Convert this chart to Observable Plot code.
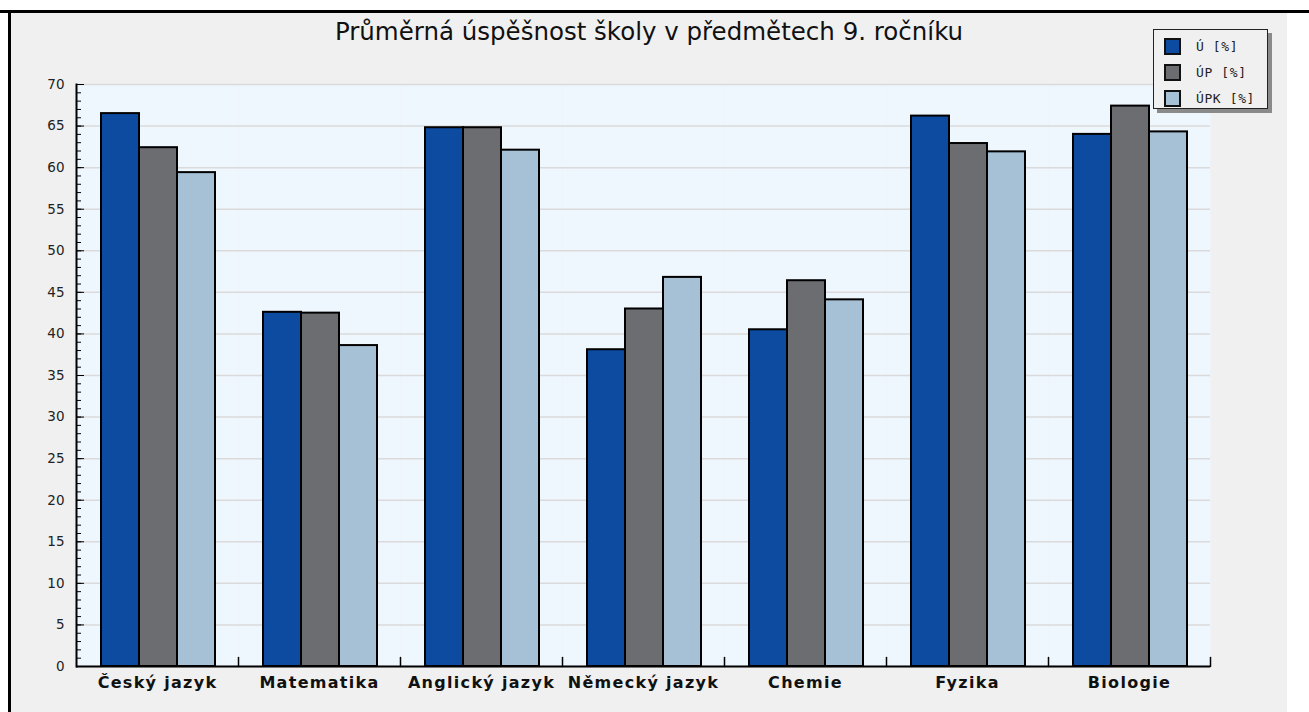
<!DOCTYPE html>
<html>
<head>
<meta charset="utf-8">
<script src="https://cdn.jsdelivr.net/npm/d3@7"></script>
<script src="https://cdn.jsdelivr.net/npm/@observablehq/plot@0.6"></script>
<style>
  html, body { margin: 0; padding: 0; background: #ffffff; }
  body { width: 1309px; height: 712px; position: relative; overflow: hidden; font-family: "DejaVu Sans", sans-serif; }
  #topline { position: absolute; left: 0; top: 10px; width: 1309px; height: 3px; background: #000; }
  #leftline { position: absolute; left: 8px; top: 10px; width: 3px; height: 702px; background: #000; }
  #panel { position: absolute; left: 11px; top: 13px; width: 1276px; height: 699px; background: #f0f0f0; }
  #title { position: absolute; left: 11px; width: 1276px; top: 17px; text-align: center; font-family: "DejaVu Sans", sans-serif; font-size: 24.5px; color: #111; white-space: nowrap; }
  #chart { position: absolute; left: 0; top: 0; }
  #chart g[aria-label="fx-axis tick label"] text { letter-spacing: 1.3px; }
  #legendbox { position: absolute; left: 1153px; top: 29px; width: 115px; height: 80px; border: 1px solid #222; background: #f0f0f0; box-shadow: 4px 4px 0 #8a8a8a; padding: 3px 0 0 11px; box-sizing: border-box; }
  #legendbox > div { margin: 0 !important; font-family: "DejaVu Sans Mono", monospace !important; font-size: 13px !important; color: #222 !important; columns: auto !important; }
  #legendbox [class$="-swatch"] { height: 26px !important; margin: 0 !important; padding: 0 !important; display: flex !important; align-items: center !important; font-family: "DejaVu Sans Mono", monospace !important; font-size: 13px !important; letter-spacing: 0.6px; }
  #legendbox svg { margin-right: 16px !important; overflow: visible; flex-shrink: 0; }
  #legendbox svg rect { stroke: #111; stroke-width: 2px; }
</style>
</head>
<body>
<div id="topline"></div>
<div id="leftline"></div>
<div id="panel"></div>
<div id="chart"></div>
<div id="title">Průměrná úspěšnost školy v předmětech 9. ročníku</div>
<div id="legendbox"></div>
<script>
const subjects = ["Český jazyk", "Matematika", "Anglický jazyk", "Německý jazyk", "Chemie", "Fyzika", "Biologie"];
const series = ["Ú", "ÚP", "ÚPK"];
const valuesU   = [66.5, 42.6, 64.8, 38.1, 40.5, 66.2, 64.0];
const valuesUP  = [62.4, 42.5, 64.8, 43.0, 46.4, 62.9, 67.4];
const valuesUPK = [59.4, 38.6, 62.1, 46.8, 44.1, 61.9, 64.3];
const seriesColors = ["#0c4b9f", "#6c6d71", "#a6c0d5"];
const yTicks = [0, 5, 10, 15, 20, 25, 30, 35, 40, 45, 50, 55, 60, 65, 70];
const yMinorTicks = d3.range(0, 71, 1);

const seriesValues = [valuesU, valuesUP, valuesUPK];
const data = [];
subjects.forEach((s, i) => series.forEach((k, j) => data.push({subject: s, series: k, value: seriesValues[j][i]})));

const upTick = {draw(context, l) { context.moveTo(0, 0); context.lineTo(0, -l); }};

const chart = Plot.plot({
  width: 1309,
  height: 712,
  marginLeft: 74,
  marginRight: 97,
  marginTop: 84,
  marginBottom: 46,
  style: {background: "transparent", fontFamily: "DejaVu Sans, sans-serif"},
  fx: {domain: subjects, padding: 0, label: null},
  x: {domain: series, paddingInner: 0, paddingOuter: 0.6, align: 0.52, axis: null},
  y: {domain: [0, 70], axis: null, label: null},
  color: {domain: series, range: seriesColors},
  marks: [
    Plot.frame({fill: "#eef6fe", stroke: "none"}),
    Plot.gridY(yTicks, {stroke: "#dadada", strokeOpacity: 1, strokeWidth: 1.5}),
    Plot.barY(data, {fx: "subject", x: "series", y: "value", fill: "series", stroke: "#000", strokeWidth: 2}),
    Plot.ruleY([0], {stroke: "#000", strokeWidth: 2}),
    Plot.frame({anchor: "left", facetAnchor: "left", stroke: "#000", strokeWidth: 2}),
    Plot.vector([0], {frameAnchor: "bottom-right", length: 9, anchor: "start", shape: upTick, stroke: "#000", strokeWidth: 1.5}),
    Plot.axisY(yMinorTicks, {text: null, tickSize: -5, stroke: "#000", label: null}),
    Plot.axisY(yTicks, {text: null, tickSize: -8, stroke: "#000", label: null}),
    Plot.axisY(yTicks, {tickSize: 0, tickPadding: 12, fontSize: 13.5, fill: "#222", label: null}),
    Plot.axisFx({anchor: "bottom", tickSize: 0, tickPadding: 10, fontSize: 16, fontWeight: "bold", fill: "#111", label: null})
  ]
});
document.getElementById("chart").appendChild(chart);

const legend = Plot.legend({
  color: {domain: series, range: seriesColors},
  legend: "swatches",
  columns: 1,
  swatchWidth: 15,
  swatchHeight: 15,
  tickFormat: d => d + " [%]"
});
document.getElementById("legendbox").appendChild(legend);
</script>
</body>
</html>
